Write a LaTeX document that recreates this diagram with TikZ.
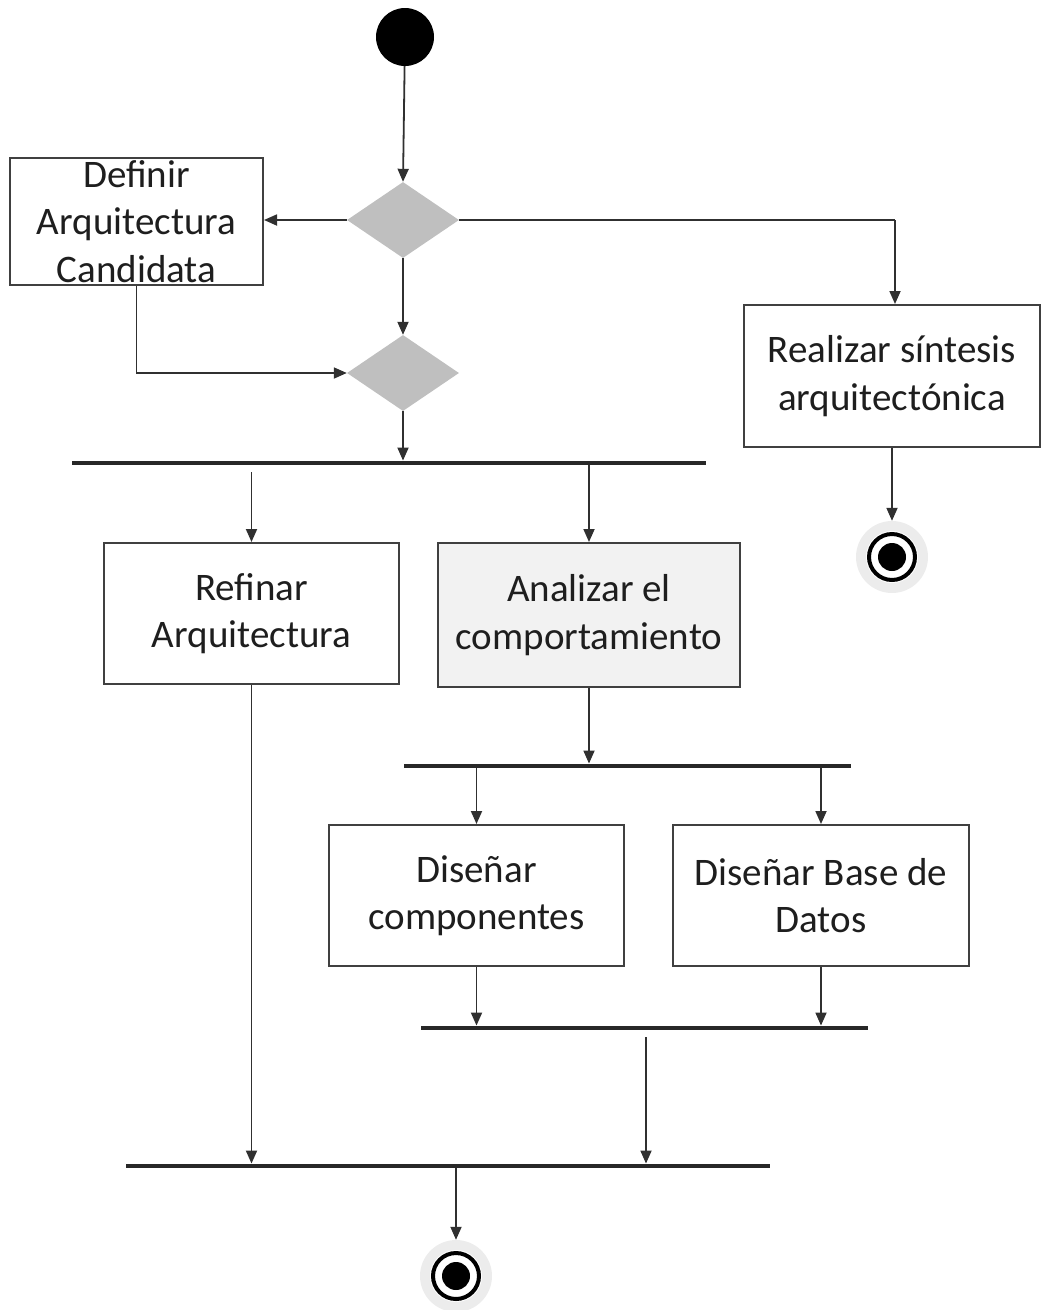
\documentclass[tikz,border=0pt]{standalone}
\usepackage{fontspec}
\setmainfont{Carlito}
\usetikzlibrary{shapes.geometric,arrows.meta}

\definecolor{inkline}{RGB}{48,48,48}
\definecolor{boxline}{RGB}{64,64,64}
\definecolor{barfill}{RGB}{40,40,40}
\definecolor{decision}{RGB}{191,191,191}
\definecolor{shaded}{RGB}{242,242,242}
\definecolor{glow}{RGB}{236,236,236}
\definecolor{txt}{RGB}{30,30,30}

\tikzset{
  actbox/.style={draw=boxline, line width=2pt, fill=white, rectangle,
    inner sep=0pt, align=center, text=txt,
    font=\fontsize{39}{47.5}\selectfont},
  syncbar/.style={rectangle, fill=barfill, inner sep=0pt, minimum height=4.5pt},
  choice/.style={diamond, fill=decision, inner sep=0pt,
    minimum width=112pt, minimum height=76pt},
  flow/.style={draw=inkline, line width=1.8pt,
    -{Triangle[length=13pt,width=11pt]}},
  plain/.style={draw=inkline, line width=1.8pt},
  startnode/.style={circle, fill=black, inner sep=0pt, minimum size=58pt},
  endnode/.style={circle, fill=glow, inner sep=0pt, minimum size=72pt,
    path picture={
      \fill[white] (path picture bounding box.center) circle (26pt);
      \draw[black, line width=4pt] (path picture bounding box.center) circle (23pt);
      \fill[black] (path picture bounding box.center) circle (14pt);
    }},
}

\begin{document}
\begin{tikzpicture}[x=1pt, y=-1pt]
\useasboundingbox (0,0) rectangle (1041,1310);

% nodes
\node[startnode] (start) at (405,37) {};
\node[choice] (d1) at (403,220) {};
\node[choice] (d2) at (403,373) {};
\node[actbox, minimum width=253pt, minimum height=127pt] (definir) at (136.5,221.5)
  {Definir\\Arquitectura\\Candidata};
\node[actbox, minimum width=296pt, minimum height=142pt] (realizar) at (892,376)
  {Realizar síntesis\\arquitectónica};
\node[endnode] (end1) at (892,557) {};

\node[syncbar, minimum width=634pt] (bar1) at (389,463) {};
\node[actbox, minimum width=295pt, minimum height=141pt] (refinar) at (251.5,613.5)
  {Refinar\\Arquitectura};
\node[actbox, fill=shaded, minimum width=302pt, minimum height=144pt] (analizar) at (589,615)
  {Analizar el\\comportamiento};

\node[syncbar, minimum width=447pt] (bar2) at (627.5,766) {};
\node[actbox, minimum width=295pt, minimum height=141pt] (dcomp) at (476.5,895.5)
  {Diseñar\\componentes};
\node[actbox, minimum width=296pt, minimum height=141pt] (dbd) at (821,895.5)
  {Diseñar Base de\\Datos};

\node[syncbar, minimum width=447pt] (bar3) at (644.5,1028) {};
\node[syncbar, minimum width=644pt] (bar4) at (448,1166) {};
\node[endnode] (end2) at (456,1276) {};

% connectors
\draw[flow] (start) -- (d1.north);
\draw[flow] (d1.west) -- (d1.west -| definir.east);
\draw[plain] (d1.east) -- (d1.east -| 895,0) coordinate (turn1);
\draw[flow] (turn1) -- (turn1 |- realizar.north);
\draw[flow] (d1.south) -- (d2.north);
\draw[flow] (definir.south) -- (definir.south |- d2.west) -- (d2.west);
\draw[flow] (d2.south) -- (d2.south |- bar1.north);
\draw[flow] (realizar.south) -- (end1.north);

\draw[flow] ([yshift=-7pt]refinar.north |- bar1.south) -- (refinar.north);
\draw[flow] (analizar.north |- bar1.south) -- (analizar.north);
\draw[flow] (analizar.south) -- (analizar.south |- bar2.north);

\draw[flow] (dcomp.north |- bar2.south) -- (dcomp.north);
\draw[flow] (dbd.north |- bar2.south) -- (dbd.north);
\draw[flow] (dcomp.south) -- (dcomp.south |- bar3.north);
\draw[flow] (dbd.south) -- (dbd.south |- bar3.north);

\draw[flow] ([xshift=1.5pt,yshift=-7pt]bar3.south) -- ([xshift=1.5pt]bar3.south |- bar4.north);
\draw[flow] (refinar.south) -- (refinar.south |- bar4.north);
\draw[flow] (end2.north |- bar4.south) -- (end2.north);
\end{tikzpicture}
\end{document}
